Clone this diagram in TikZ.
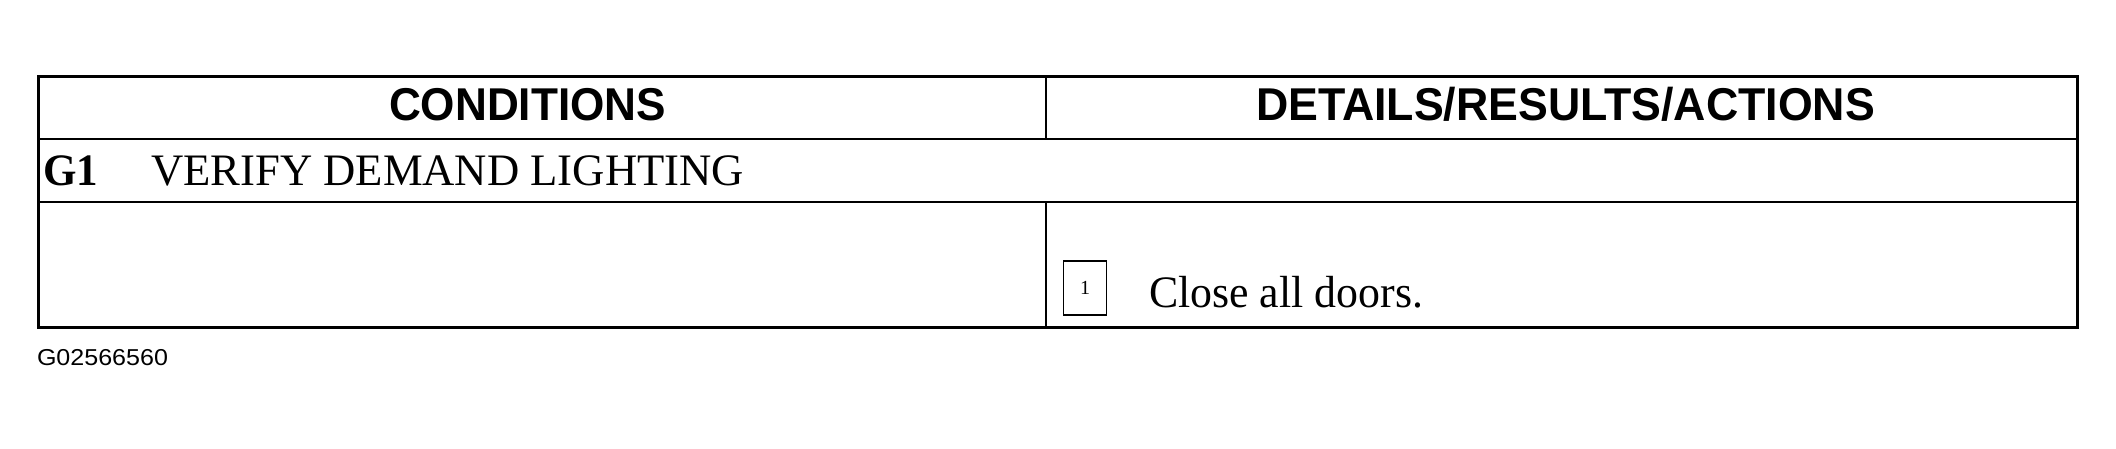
\documentclass[tikz,border=0pt]{standalone}
\usepackage{fontspec}
\setmainfont{Liberation Serif}
\newfontfamily\hdfont{Liberation Sans}
\newcommand{\fitw}[3]{\resizebox{#1}{\height}{\fontsize{#2}{#2}\selectfont #3}}
\begin{document}
\begin{tikzpicture}[x=1pt,y=-1pt,
  outer/.style={line width=3pt},
  inner/.style={line width=2pt},
  txt/.style={anchor=base west,inner sep=0pt,outer sep=0pt}]
\useasboundingbox (0,0) rectangle (2116,448);
\draw[inner] (38,139) -- (2077,139);
\draw[inner] (38,202) -- (2077,202);
\draw[inner] (1046,76) -- (1046,139);
\draw[inner] (1046,202) -- (1046,327);
\draw[outer] (38,76) rectangle (2077,327);
\node[txt] (h1) at (389,120) {\fitw{277pt}{46pt}{\hdfont\bfseries CONDITIONS}};
\node[txt] (h2) at (1256,120) {\fitw{619pt}{46pt}{\hdfont\bfseries DETAILS/RESULTS/ACTIONS}};
\node[txt] (g1) at (43,185) {\fitw{55pt}{45pt}{\bfseries G1}};
\node[txt] (title) at (151,185) {\fitw{593pt}{45pt}{VERIFY DEMAND LIGHTING}};
\node[draw,line width=1.2pt,minimum width=43pt,minimum height=54pt,inner sep=0pt] (box) at (1085,288) {\fontsize{20pt}{20pt}\selectfont 1};
\node[txt] (step) at (1149,307) {\fitw{274pt}{45pt}{Close all doors.}};
\node[txt] (id) at (37,365) {\fitw{131pt}{23pt}{\hdfont G02566560}};
\end{tikzpicture}
\end{document}
